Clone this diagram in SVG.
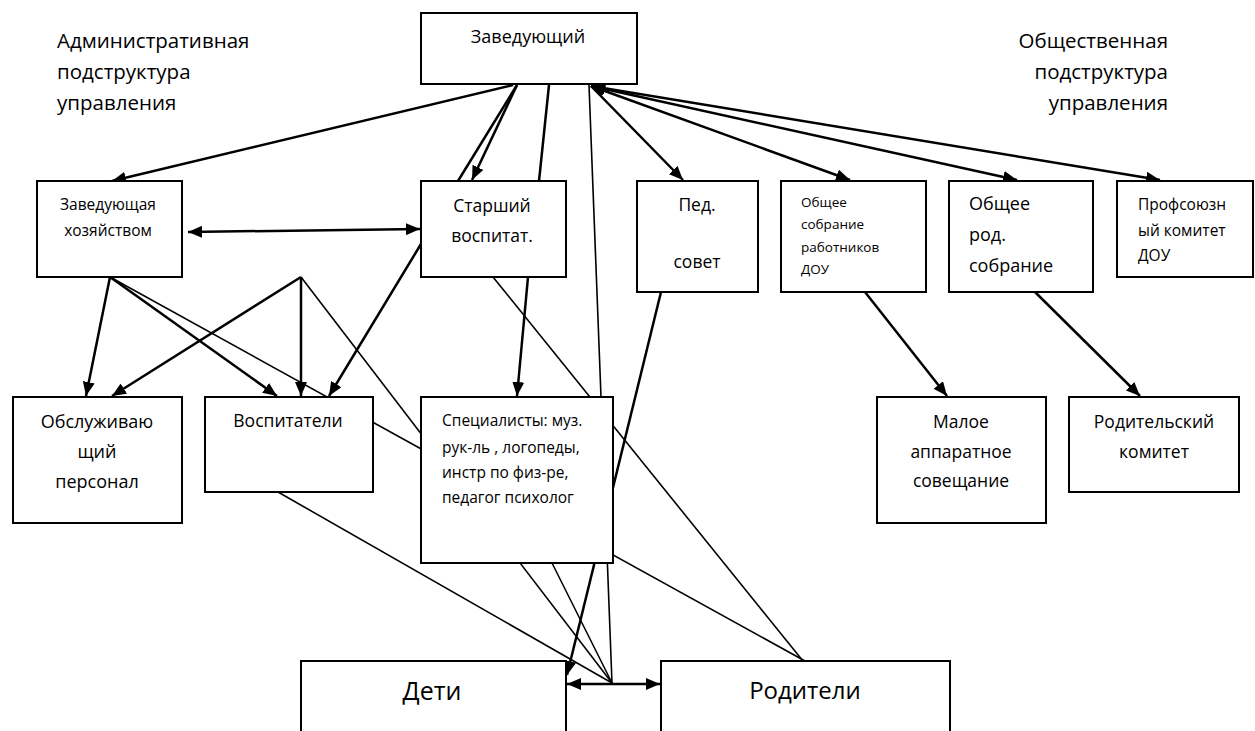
<svg xmlns="http://www.w3.org/2000/svg" width="1255" height="731" viewBox="0 0 1255 731">
<style>
.box{fill:#fff;stroke:#000;stroke-width:2}
.t{font-family:"Open Sans","Noto Sans","DejaVu Sans",sans-serif;fill:#000}
.c{text-anchor:middle}
.r{text-anchor:end}
.thick{stroke:#000;stroke-width:2.5;fill:none}
.thin{stroke:#000;stroke-width:1.6;fill:none}
.a{marker-end:url(#arr)}
.aa{marker-start:url(#arr);marker-end:url(#arr)}
</style>
<defs>
<marker id="arr" viewBox="0 0 14 12" refX="14" refY="6" markerWidth="14" markerHeight="12" markerUnits="userSpaceOnUse" orient="auto-start-reverse">
<path d="M0,0 L14,6 L0,12 z" fill="#000"/>
</marker>
</defs>
<rect width="1255" height="731" fill="#fff"/>
<g id="labels">
<text class="t" x="57" y="48" font-size="20.5">Административная</text>
<text class="t" x="57" y="79" font-size="20.5">подструктура</text>
<text class="t" x="57" y="110" font-size="20.5">управления</text>
<text class="t r" x="1168" y="48" font-size="20.5">Общественная</text>
<text class="t r" x="1168" y="79" font-size="20.5">подструктура</text>
<text class="t r" x="1168" y="110" font-size="20.5">управления</text>
</g>
<g id="connectors">
<line class="thin" x1="589" y1="85" x2="612" y2="683"/>
<line class="thin" x1="110" y1="277" x2="805" y2="661"/>
<line class="thin" x1="301" y1="277" x2="612" y2="683"/>
<line class="thin" x1="493" y1="277" x2="803" y2="661"/>
<line class="thin" x1="278" y1="492" x2="612" y2="683"/>
<line class="thin" x1="552" y1="563" x2="612" y2="683"/>
<line class="thick a" x1="513" y1="85" x2="112" y2="181"/>
<line class="thick a" x1="517" y1="85" x2="472" y2="180"/>
<line class="thick" x1="517" y1="85" x2="458" y2="181"/>
<line class="thick" x1="549" y1="85" x2="539" y2="181"/>
<line class="thick a" x1="591" y1="86" x2="683" y2="180"/>
<line class="thick aa" x1="591" y1="86" x2="850" y2="180"/>
<line class="thick aa" x1="591" y1="86" x2="1017" y2="180"/>
<line class="thick aa" x1="591" y1="86" x2="1160" y2="180"/>
<line class="thick aa" x1="188" y1="232" x2="420" y2="229"/>
<line class="thick a" x1="110" y1="277" x2="86" y2="396"/>
<line class="thick a" x1="110" y1="277" x2="277" y2="396"/>
<line class="thick a" x1="301" y1="277" x2="112" y2="396"/>
<line class="thick a" x1="301" y1="277" x2="301" y2="396"/>
<line class="thick a" x1="421" y1="244" x2="329" y2="396"/>
<line class="thick a" x1="528" y1="277" x2="517" y2="396"/>
<line class="thick a" x1="661" y1="292" x2="567" y2="675"/>
<line class="thick a" x1="865" y1="292" x2="947" y2="396"/>
<line class="thick a" x1="1035" y1="292" x2="1140" y2="396"/>
<line class="thick aa" x1="567" y1="684" x2="660" y2="684"/>
</g>
<g id="n-zav">
<rect class="box" x="421" y="13" width="216" height="71"/>
<text class="t c" x="528" y="43" font-size="18">Заведующий</text>
</g>
<g id="n-zavhoz">
<rect class="box" x="37" y="181" width="145" height="96"/>
<text class="t c" x="108" y="210" font-size="15.5">Заведующая</text>
<text class="t c" x="108" y="236" font-size="15.5">хозяйством</text>
</g>
<g id="n-starsh">
<rect class="box" x="421" y="181" width="145" height="96"/>
<text class="t c" x="492" y="212" font-size="17.5">Старший</text>
<text class="t c" x="492" y="242" font-size="17.5">воспитат.</text>
</g>
<g id="n-ped">
<rect class="box" x="637" y="181" width="121" height="111"/>
<text class="t c" x="697" y="211" font-size="17.5">Пед.</text>
<text class="t c" x="697" y="268" font-size="17.5">совет</text>
</g>
<g id="n-osr">
<rect class="box" x="781" y="181" width="145" height="111"/>
<text class="t" x="801" y="207" font-size="13.5">Общее</text>
<text class="t" x="801" y="229" font-size="13.5">собрание</text>
<text class="t" x="801" y="252" font-size="13.5">работников</text>
<text class="t" x="801" y="274" font-size="13.5">ДОУ</text>
</g>
<g id="n-ors">
<rect class="box" x="949" y="181" width="144" height="111"/>
<text class="t" x="969" y="210" font-size="18">Общее</text>
<text class="t" x="969" y="241" font-size="18">род.</text>
<text class="t" x="969" y="272" font-size="18">собрание</text>
</g>
<g id="n-prof">
<rect class="box" x="1117" y="181" width="136" height="96"/>
<text class="t" x="1138" y="210" font-size="15.5">Профсоюзн</text>
<text class="t" x="1138" y="236" font-size="15.5">ый комитет</text>
<text class="t" x="1138" y="261" font-size="15.5">ДОУ</text>
</g>
<g id="n-obsl">
<rect class="box" x="13" y="397" width="169" height="126"/>
<text class="t c" x="97" y="428" font-size="18">Обслуживаю</text>
<text class="t c" x="97" y="458" font-size="18">щий</text>
<text class="t c" x="97" y="488" font-size="18">персонал</text>
</g>
<g id="n-vosp">
<rect class="box" x="205" y="397" width="168" height="95"/>
<text class="t c" x="288" y="427" font-size="17.5">Воспитатели</text>
</g>
<g id="n-spec">
<rect class="box" x="421" y="397" width="192" height="166"/>
<text class="t" x="442" y="426" font-size="15.5">Специалисты: муз.</text>
<text class="t" x="442" y="453" font-size="15.5">рук-ль ,  логопеды,</text>
<text class="t" x="442" y="478" font-size="15.5">инстр по физ-ре,</text>
<text class="t" x="442" y="503" font-size="15.5">педагог психолог</text>
</g>
<g id="n-maloe">
<rect class="box" x="877" y="397" width="169" height="126"/>
<text class="t c" x="961" y="428" font-size="17.5">Малое</text>
<text class="t c" x="961" y="458" font-size="17.5">аппаратное</text>
<text class="t c" x="961" y="487" font-size="17.5">совещание</text>
</g>
<g id="n-rodkom">
<rect class="box" x="1069" y="397" width="170" height="95"/>
<text class="t c" x="1154" y="428" font-size="17.5">Родительский</text>
<text class="t c" x="1154" y="458" font-size="17.5">комитет</text>
</g>
<g id="n-deti">
<rect class="box" x="301" y="661" width="265" height="85"/>
<text class="t c" x="432" y="700" font-size="25">Дети</text>
</g>
<g id="n-roditeli">
<rect class="box" x="661" y="661" width="289" height="85"/>
<text class="t c" x="805" y="699" font-size="24">Родители</text>
</g>
</svg>
